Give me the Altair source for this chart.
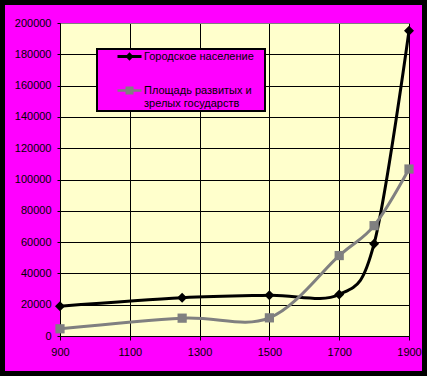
import altair as alt
import pandas as pd

years = [900, 1250, 1500, 1700, 1800, 1900]
urban_pop = [19000, 24400, 26000, 26500, 59000, 195000]
state_area = [4600, 11400, 11600, 51400, 70500, 106700]
series_names = ["Городское население", "Площадь развитых и зрелых государств"]
series_colors = ["#000000", "#808080"]
series_shapes = ["diamond", "square"]
x_ticks = [900, 1100, 1300, 1500, 1700, 1900]
y_ticks = list(range(0, 200001, 20000))

rows = []
for yr, u, a in zip(years, urban_pop, state_area):
    rows.append({"year": yr, "value": u, "series": series_names[0]})
    rows.append({"year": yr, "value": a, "series": series_names[1]})
df = pd.DataFrame(rows)

FONT = "Liberation Sans"
# legend symbols: line segment + marker (unit = 5 px with symbolSize 100)
path_diamond = "M-2.4,-0.3L2.4,-0.3L2.4,0.3L-2.4,0.3Z M0,-0.85L0.8,0L0,0.85L-0.8,0Z"
path_square = "M-2.4,-0.27L2.4,-0.27L2.4,0.27L-2.4,0.27Z M-0.8,-0.8L0.8,-0.8L0.8,0.8L-0.8,0.8Z"

legend = alt.Legend(
    title=None,
    orient="none",
    legendX=37,
    legendY=26,
    fillColor="#FF00FF",
    strokeColor="black",
    padding=2,
    symbolSize=100,
    symbolOffset=25,
    symbolStrokeWidth=0,
    symbolOpacity=1,
    rowPadding=22,
    labelFont=FONT,
    labelFontSize=11,
    labelColor="black",
    labelLimit=300,
    labelOffset=9,
    labelExpr=(f"datum.label === '{series_names[1]}' ? ['Площадь развитых и', 'зрелых государств'] "
               f": datum.label + '\u00a0\u00a0\u00a0\u200b'"),
)

x_enc = alt.X("year:Q", scale=alt.Scale(domain=[900, 1900], nice=False, zero=False),
              axis=alt.Axis(values=x_ticks, format="d", title=None, tickSize=4, labelPadding=6, labelFlush=False))
y_enc = alt.Y("value:Q", scale=alt.Scale(domain=[0, 200000], nice=False),
              axis=alt.Axis(values=y_ticks, format="d", title=None, tickSize=3, labelPadding=6, labelFlush=False,
                            gridColor={"condition": {"test": "datum.value === 200000", "value": "#808080"}, "value": "black"}))
color_enc = alt.Color("series:N", scale=alt.Scale(domain=series_names, range=series_colors), legend=legend)
shape_enc = alt.Shape("series:N", scale=alt.Scale(domain=series_names, range=[path_diamond, path_square]), legend=legend)

base = alt.Chart(df)
lines = base.mark_line(interpolate="cardinal", strokeWidth=3).encode(x=x_enc, y=y_enc, color=color_enc)
pts_urban = base.transform_filter(alt.datum.series == series_names[0]).mark_point(
    filled=True, size=100, opacity=1, shape="diamond").encode(x=x_enc, y=y_enc, color=color_enc)
pts_area = base.transform_filter(alt.datum.series == series_names[1]).mark_point(
    filled=True, size=85, opacity=1, shape="square").encode(x=x_enc, y=y_enc, color=color_enc)
legend_keys = base.transform_filter("false").mark_point(filled=True, opacity=1).encode(
    x=x_enc, y=y_enc, color=color_enc, shape=shape_enc)

frame = alt.Chart(pd.DataFrame({"k": [0]})).mark_rect(fillOpacity=0, stroke="black", strokeWidth=10).encode(
    x=alt.value(-60), x2=alt.value(367), y=alt.value(-23), y2=alt.value(353)
)

chart = alt.layer(frame, lines, pts_urban, pts_area, legend_keys).properties(
    width=349,
    height=313,
    background="#FF00FF",
    padding={"left": 60, "top": 23, "right": 18, "bottom": 40},
    autosize=alt.AutoSizeParams(type="none"),
).configure_view(
    fill="#FFFFCC", stroke="#808080", strokeWidth=1
).configure_axis(
    domainColor="black", domainWidth=1, tickColor="black", gridColor="black", gridWidth=1,
    labelFont=FONT, labelFontSize=11, labelColor="black",
).configure_legend(strokeWidth=2)

chart.save("out.html", embed_options={"renderer": "svg", "actions": False})
